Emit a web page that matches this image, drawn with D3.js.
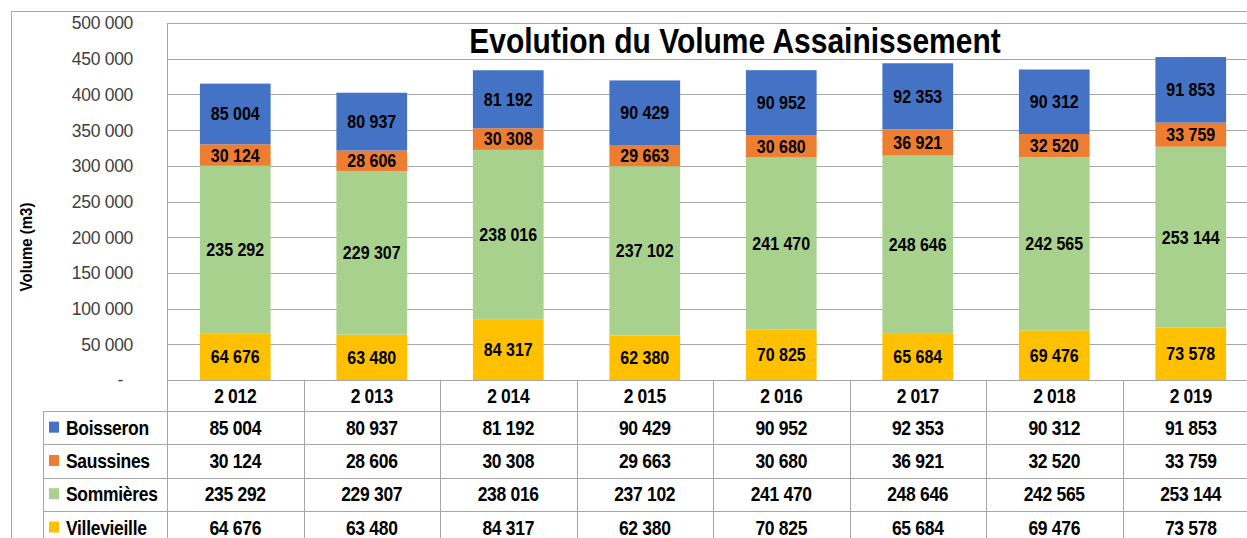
<!DOCTYPE html>
<html>
<head>
<meta charset="utf-8">
<script src="https://cdn.jsdelivr.net/npm/d3@7"></script>
<style>
  body { margin: 0; background: #fff; }
  text { font-family: "Liberation Sans", Arial, Helvetica, sans-serif; }
</style>
</head>
<body>
<div id="chart"></div>
<script>
const width = 1247;
const height = 538;

const years = [2012, 2013, 2014, 2015, 2016, 2017, 2018, 2019];
const seriesNames = ["Boisseron", "Saussines", "Sommières", "Villevieille"];
const boisseron = [85004, 80937, 81192, 90429, 90952, 92353, 90312, 91853];
const saussines = [30124, 28606, 30308, 29663, 30680, 36921, 32520, 33759];
const sommieres = [235292, 229307, 238016, 237102, 241470, 248646, 242565, 253144];
const villevieille = [64676, 63480, 84317, 62380, 70825, 65684, 69476, 73578];
const yTicks = [0, 50000, 100000, 150000, 200000, 250000, 300000, 350000, 400000, 450000, 500000];
const colors = ["#4472C4", "#ED7D31", "#A9D18E", "#FFC000"];

const seriesValues = [boisseron, saussines, sommieres, villevieille];
const rows = years.map((yr, i) => {
  const r = { year: yr };
  seriesNames.forEach((n, j) => (r[n] = seriesValues[j][i]));
  return r;
});

const fr = d3.formatLocale({ decimal: ",", thousands: " ", grouping: [3], currency: ["", ""] });
const fmt = fr.format(",d");

const plotLeft = 167;
const step = 136.5;
const plotTop = 23;
const plotBottom = 380;
const headH = 31;
const rowH = 33.3;
const stretch = 1.12; // text in the source looks slightly taller than wide

const x = d3
  .scaleBand()
  .domain(years)
  .range([plotLeft, plotLeft + step * years.length])
  .paddingInner(0.482)
  .paddingOuter(0.241);

const xCol = d3.scaleBand().domain(years).range([plotLeft, plotLeft + step * years.length]);

const y = d3.scaleLinear().domain([0, 500000]).range([plotBottom, plotTop]);

const color = d3.scaleOrdinal().domain(seriesNames).range(colors);

// put a text at (px, py) and stretch it vertically around its centre line
function place(sel, px, py, k = stretch) {
  sel.attr("transform", (d, i) => {
    const a = typeof px === "function" ? px(d, i) : px;
    const b = typeof py === "function" ? py(d, i) : py;
    return `translate(${a},${b}) scale(1,${k})`;
  });
}

const svg = d3
  .select("#chart")
  .append("svg")
  .attr("width", width)
  .attr("height", height);

// outer chart border
svg
  .append("path")
  .attr("d", `M11.5,${height + 5} V11.5 H${width + 5}`)
  .attr("fill", "none")
  .attr("stroke", "#a6a6a6");

// gridlines
svg
  .append("g")
  .selectAll("line")
  .data(yTicks)
  .join("line")
  .attr("x1", plotLeft)
  .attr("x2", width + 5)
  .attr("y1", (d) => Math.round(y(d)) + 0.5)
  .attr("y2", (d) => Math.round(y(d)) + 0.5)
  .attr("stroke", "#a6a6a6");

// y tick labels
svg
  .append("g")
  .selectAll("text")
  .data(yTicks)
  .join("text")
  .call(place, (d) => (d === 0 ? 123 : 133), (d) => y(d), 1.05)
  .attr("dy", "0.35em")
  .attr("text-anchor", "end")
  .style("font-size", "17.5px")
  .style("letter-spacing", "-0.3px")
  .style("fill", "#404040")
  .text((d) => (d === 0 ? "-" : fmt(d)));

// y axis title
svg
  .append("text")
  .attr("transform", "translate(32,247) rotate(-90) scale(1,1.05)")
  .attr("text-anchor", "middle")
  .style("font-size", "15px")
  .style("font-weight", "bold")
  .style("fill", "#000")
  .text("Volume (m3)");

// stacked bars
const stackOrder = ["Villevieille", "Sommières", "Saussines", "Boisseron"];
const stacked = d3.stack().keys(stackOrder)(rows);

const layer = svg
  .append("g")
  .selectAll("g")
  .data(stacked)
  .join("g")
  .attr("fill", (d) => color(d.key));

layer
  .selectAll("rect")
  .data((d) => d)
  .join("rect")
  .attr("x", (d) => x(d.data.year))
  .attr("y", (d) => y(d[1]))
  .attr("width", x.bandwidth())
  .attr("height", (d) => y(d[0]) - y(d[1]));

layer
  .selectAll("text")
  .data((d) => d)
  .join("text")
  .call(place, (d) => x(d.data.year) + x.bandwidth() / 2, (d) => (y(d[0]) + y(d[1])) / 2)
  .attr("dy", "0.36em")
  .attr("text-anchor", "middle")
  .style("font-size", "16px")
  .style("font-weight", "bold")
  .style("fill", "#000")
  .text((d) => fmt(d[1] - d[0]));

// title
svg
  .append("text")
  .call(place, 735, 41, 1.15)
  .attr("dy", "0.36em")
  .attr("text-anchor", "middle")
  .style("font-size", "30px")
  .style("font-weight", "bold")
  .style("fill", "#000")
  .text("Evolution du Volume Assainissement");

// data table
const table = svg.append("g");
const tableLeft = 43;
const tableRight = width + 5;
const rowYs = [plotBottom].concat(d3.range(seriesNames.length + 1).map((i) => plotBottom + headH + i * rowH));

table
  .selectAll("line.h")
  .data(rowYs)
  .join("line")
  .attr("class", "h")
  .attr("x1", (d, i) => (i === 0 ? plotLeft : tableLeft))
  .attr("x2", tableRight)
  .attr("y1", (d) => Math.round(d) + 0.5)
  .attr("y2", (d) => Math.round(d) + 0.5)
  .attr("stroke", "#a6a6a6");

table
  .selectAll("line.v")
  .data(years.map((yr) => xCol(yr)))
  .join("line")
  .attr("class", "v")
  .attr("x1", (d) => Math.round(d) + 0.5)
  .attr("x2", (d) => Math.round(d) + 0.5)
  .attr("y1", (d, i) => (i === 0 ? plotTop : plotBottom))
  .attr("y2", height + 5)
  .attr("stroke", "#a6a6a6");

table
  .append("line")
  .attr("x1", tableLeft + 0.5)
  .attr("x2", tableLeft + 0.5)
  .attr("y1", plotBottom + headH)
  .attr("y2", height + 5)
  .attr("stroke", "#a6a6a6");

// header years
table
  .selectAll("text.year")
  .data(years)
  .join("text")
  .attr("class", "year")
  .call(place, (d) => xCol(d) + xCol.bandwidth() / 2, plotBottom + headH / 2)
  .attr("dy", "0.36em")
  .attr("text-anchor", "middle")
  .style("font-size", "17.5px")
  .style("font-weight", "bold")
  .style("letter-spacing", "-0.3px")
  .text((d) => fmt(d));

// series rows
const tRow = table
  .selectAll("g.row")
  .data(seriesNames)
  .join("g")
  .attr("class", "row")
  .attr("transform", (d, i) => `translate(0,${plotBottom + headH + i * rowH + rowH / 2})`);

tRow
  .append("rect")
  .attr("x", 49)
  .attr("y", -6)
  .attr("width", 10)
  .attr("height", 11)
  .attr("fill", (d) => color(d));

tRow
  .append("text")
  .call(place, 66, 0)
  .attr("dy", "0.36em")
  .style("font-size", "17.5px")
  .style("font-weight", "bold")
  .style("letter-spacing", "-0.3px")
  .text((d) => d);

tRow
  .selectAll("text.val")
  .data((name, j) => years.map((yr, i) => ({ yr, v: seriesValues[j][i] })))
  .join("text")
  .attr("class", "val")
  .call(place, (d) => xCol(d.yr) + xCol.bandwidth() / 2, 0)
  .attr("dy", "0.36em")
  .attr("text-anchor", "middle")
  .style("font-size", "17.5px")
  .style("font-weight", "bold")
  .style("letter-spacing", "-0.3px")
  .text((d) => fmt(d.v));
</script>
</body>
</html>
